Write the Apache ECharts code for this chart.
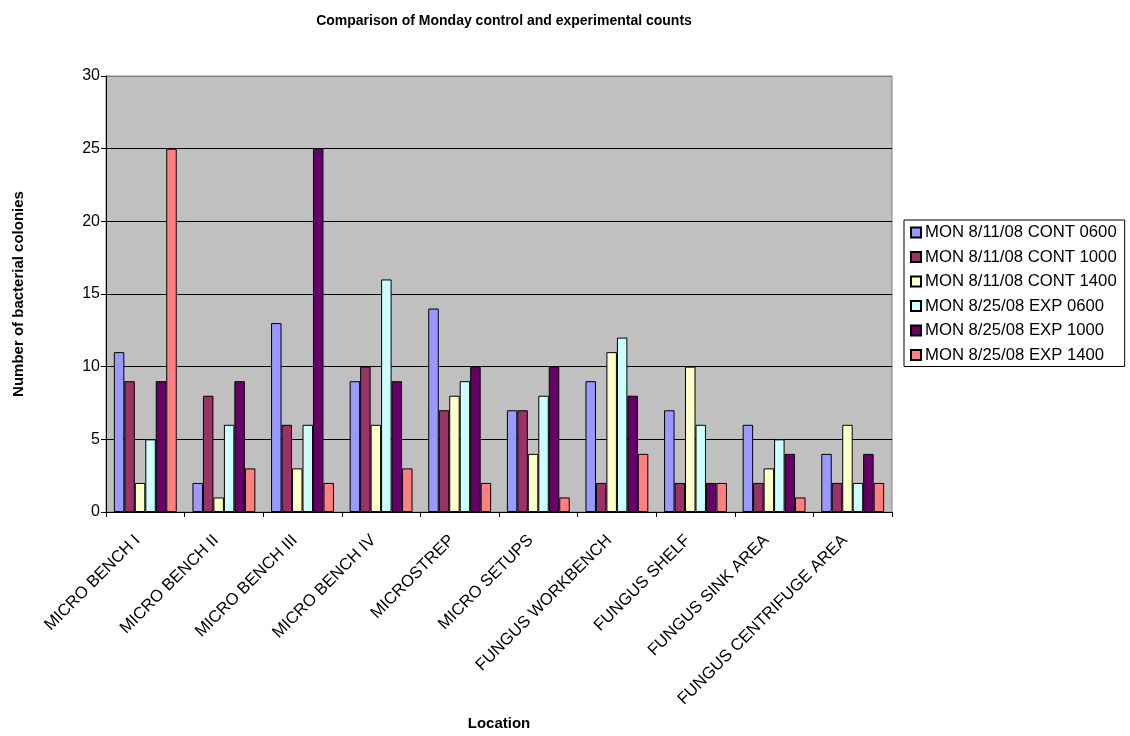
<!DOCTYPE html>
<html>
<head>
<meta charset="utf-8">
<script src="https://cdn.jsdelivr.net/npm/echarts@6/dist/echarts.min.js"></script>
<style>html,body{margin:0;padding:0;background:#fff;}#c{width:1130px;height:736px;}</style>
</head>
<body>
<div id="c"></div>
<script>
const categories = ["MICRO BENCH I","MICRO BENCH II","MICRO BENCH III","MICRO BENCH IV","MICROSTREP","MICRO SETUPS","FUNGUS WORKBENCH","FUNGUS SHELF","FUNGUS SINK AREA","FUNGUS CENTRIFUGE AREA"];
const seriesNames = ["MON 8/11/08 CONT 0600","MON 8/11/08 CONT 1000","MON 8/11/08 CONT 1400","MON 8/25/08 EXP 0600","MON 8/25/08 EXP 1000","MON 8/25/08 EXP 1400"];
const cont0600 = [11, 2, 13, 9, 14, 7, 9, 7, 6, 4];
const cont1000 = [9, 8, 6, 10, 7, 7, 2, 2, 2, 2];
const cont1400 = [2, 1, 3, 6, 8, 4, 11, 10, 3, 6];
const exp0600  = [5, 6, 6, 16, 9, 8, 12, 6, 5, 2];
const exp1000  = [9, 9, 25, 9, 10, 10, 8, 2, 4, 4];
const exp1400  = [25, 3, 2, 3, 2, 1, 4, 2, 1, 2];
const yTicks = [0, 5, 10, 15, 20, 25, 30];

const values = [cont0600, cont1000, cont1400, exp0600, exp1000, exp1400];
const colors = ["#9999FF","#993366","#FFFFCC","#CCFFFF","#660066","#FF8080"];
const font = "'Liberation Sans', Arial, sans-serif";

const chart = echarts.init(document.getElementById('c'), null, {renderer: 'canvas'});
chart.setOption({
  animation: false,
  backgroundColor: '#ffffff',
  textStyle: {fontFamily: font, color: '#000'},
  title: {
    text: 'Comparison of Monday control and experimental counts',
    left: 499, top: 9, textAlign: 'center',
    textStyle: {fontFamily: font, fontSize: 14, fontWeight: 'bold', color: '#000'}
  },
  legend: {
    orient: 'vertical', left: 904, top: 220,
    data: seriesNames,
    icon: 'rect', itemWidth: 10, itemHeight: 10, itemGap: 7.5,
    padding: [4, 8, 3, 6],
    borderColor: '#000', borderWidth: 1, backgroundColor: '#fff',
    textStyle: {fontFamily: font, fontSize: 16.7, color: '#000', padding: [0,0,0,-1]},
    selectedMode: false
  },
  grid: {
    left: 106, right: 238, top: 76, bottom: 223,
    show: true, backgroundColor: '#C0C0C0', borderColor: '#808080', borderWidth: 1
  },
  xAxis: {
    type: 'category', data: categories,
    name: 'Location', nameLocation: 'middle', nameGap: 204,
    nameTextStyle: {fontFamily: font, fontSize: 15, fontWeight: 'bold', color: '#000'},
    axisLine: {lineStyle: {color: '#000', width: 1}},
    axisTick: {show: true, length: 5, lineStyle: {color: '#000'}},
    axisLabel: {interval: 0, rotate: 45, fontSize: 16.6, fontFamily: font, color: '#000', margin: 18, padding: [0, 11, 0, 0]}
  },
  yAxis: {
    type: 'value', min: 0, max: 30, interval: 5,
    name: 'Number of bacterial colonies', nameLocation: 'middle', nameGap: 80,
    nameTextStyle: {fontFamily: font, fontSize: 15, fontWeight: 'bold', color: '#000'},
    axisLine: {show: true, lineStyle: {color: '#000', width: 1}},
    axisTick: {show: true, length: 5, lineStyle: {color: '#000'}},
    axisLabel: {fontSize: 16, fontFamily: font, color: '#000', margin: 6,
      formatter: v => yTicks.includes(v) ? String(v) : ''},
    splitLine: {show: true, lineStyle: {color: ['#000','#000','#000','#000','#000','#000','#808080'], width: 1}}
  },
  series: values.map((arr, i) => ({
    name: seriesNames[i], type: 'bar', data: arr,
    barGap: '0%', barCategoryGap: '20%',
    itemStyle: {color: colors[i], borderColor: '#000', borderWidth: 1}
  }))
});
</script>
</body>
</html>
